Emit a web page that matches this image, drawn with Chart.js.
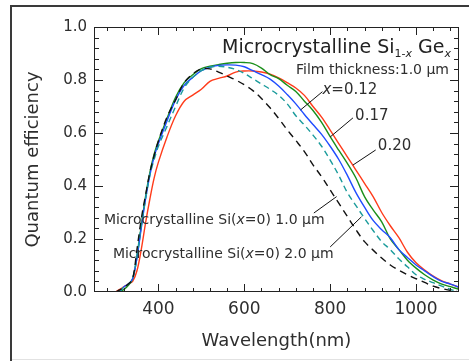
<!DOCTYPE html>
<html lang="en">
<head>
    <meta charset="UTF-8">
    <title>Quantum efficiency - microcrystalline SiGe</title>
    <script src="https://cdn.jsdelivr.net/npm/chart.js"></script>
    <style>
        body {
            margin: 0;
            padding: 0;
            background: #fff;
        }

        .chart-box {
            width: 469px;
            height: 361px;
        }
    </style>
</head>
<body>
    <div class="chart-box">
        <canvas id="qeChart" width="469" height="361"></canvas>
    </div>

    <script>
        // wavelength grid (nm) shared by all curves
        const wavelengths = [300, 310, 320, 330, 340, 350, 360, 370, 380, 390, 400, 420, 440, 460, 480, 500, 520, 540, 560, 580,
            600, 620, 640, 660, 680, 700, 720, 740, 760, 780, 800, 820, 840, 860, 880, 900, 920, 940, 960, 980,
            1000, 1020, 1040, 1060, 1080, 1100];

        // microcrystalline Si (x=0), 1.0 um - black dashed
        const si10 = [0.0, 0.008, 0.018, 0.03, 0.05, 0.16, 0.275, 0.365, 0.45, 0.515, 0.57, 0.66, 0.725, 0.79, 0.823, 0.842, 0.842, 0.83, 0.815, 0.8,
            0.782, 0.76, 0.73, 0.695, 0.655, 0.612, 0.572, 0.53, 0.48, 0.435, 0.385, 0.335, 0.285, 0.235, 0.19, 0.158, 0.128, 0.102, 0.082, 0.065,
            0.05, 0.036, 0.022, 0.013, 0.006, 0.0];

        // microcrystalline Si (x=0), 2.0 um - teal dashed
        const si20 = [null, 0.0, 0.02, 0.03, 0.05, 0.14, 0.25, 0.35, 0.44, 0.5, 0.55, 0.625, 0.7, 0.77, 0.81, 0.835, 0.848, 0.852, 0.848, 0.84,
            0.825, 0.805, 0.785, 0.765, 0.742, 0.71, 0.665, 0.63, 0.592, 0.55, 0.498, 0.44, 0.375, 0.326, 0.278, 0.232, 0.19, 0.16, 0.125, 0.095,
            0.065, 0.048, 0.035, 0.022, 0.01, 0.0];

        // Si(1-x)Ge(x), 1.0 um
        const ge012 = [null, 0.0, 0.02, 0.03, 0.05, 0.13, 0.24, 0.35, 0.44, 0.51, 0.56, 0.645, 0.725, 0.78, 0.81, 0.835, 0.848, 0.855, 0.857, 0.856,
            0.85, 0.835, 0.82, 0.803, 0.777, 0.745, 0.71, 0.67, 0.632, 0.595, 0.55, 0.5, 0.44, 0.375, 0.32, 0.27, 0.235, 0.205, 0.16, 0.13,
            0.102, 0.08, 0.058, 0.04, 0.03, 0.018];

        const ge017 = [null, 0.0, 0.01, 0.025, 0.05, 0.13, 0.25, 0.36, 0.45, 0.52, 0.57, 0.655, 0.735, 0.79, 0.82, 0.843, 0.852, 0.858, 0.863, 0.866,
            0.866, 0.862, 0.845, 0.82, 0.805, 0.78, 0.757, 0.72, 0.685, 0.64, 0.586, 0.535, 0.485, 0.43, 0.36, 0.31, 0.265, 0.2, 0.16, 0.12,
            0.09, 0.065, 0.045, 0.03, 0.02, 0.01];

        const ge020 = [0.0, 0.01, 0.02, 0.03, 0.04, 0.08, 0.16, 0.26, 0.35, 0.43, 0.49, 0.585, 0.665, 0.72, 0.743, 0.765, 0.795, 0.806, 0.815, 0.83,
            0.834, 0.834, 0.83, 0.822, 0.808, 0.79, 0.77, 0.742, 0.7, 0.66, 0.611, 0.56, 0.51, 0.46, 0.41, 0.36, 0.3, 0.25, 0.205, 0.15,
            0.11, 0.083, 0.06, 0.042, 0.03, 0.018];

        const xTickLabels = [400, 600, 800, 1000];
        const yTickLabels = [0, 0.2, 0.4, 0.6, 0.8, 1.0];

        // leader lines / callouts, in data units [wl, qe]
        const callouts = [
            { text: 'x=0.12', from: [731, 0.687], to: [782, 0.756], at: [782, 0.76] },
            { text: '0.17', from: [800, 0.585], to: [853, 0.657], at: [858, 0.665] },
            { text: '0.20', from: [853, 0.479], to: [906, 0.536], at: [911, 0.552] },
            { text: 'Microcrystalline Si(x=0) 1.0 μm', from: [815, 0.36], to: [762, 0.298], at: [273, 0.269], si: true },
            { text: 'Microcrystalline Si(x=0) 2.0 μm', from: [873, 0.284], to: [800, 0.17], at: [294, 0.143], si: true }
        ];

        const txtColor = '#2e2e2e';
        const fontFam = '"DejaVu Sans", sans-serif';

        function toPoints(ys) {
            return wavelengths.map((w, i) => ({ x: w, y: ys[i] })).filter(p => p.y !== null);
        }

        // draws text where "x" is italic (used for x=0.12 and Si(x=0))
        function drawMixed(ctx, str, x, y, size) {
            const parts = str.split('x');
            let cx = x;
            parts.forEach((p, i) => {
                ctx.font = size + 'px ' + fontFam;
                ctx.fillText(p, cx, y);
                cx += ctx.measureText(p).width;
                if (i < parts.length - 1) {
                    ctx.font = 'italic ' + size + 'px ' + fontFam;
                    ctx.fillText('x', cx, y);
                    cx += ctx.measureText('x').width;
                }
            });
        }

        const decorations = {
            id: 'decorations',
            afterDraw(chart) {
                const { ctx, chartArea: a, scales: { x, y } } = chart;
                ctx.save();

                // outer frame of the figure
                ctx.strokeStyle = '#3a3a3a';
                ctx.lineWidth = 2;
                ctx.beginPath();
                ctx.moveTo(11, 361);
                ctx.lineTo(11, 6);
                ctx.lineTo(469, 6);
                ctx.stroke();
                ctx.strokeStyle = '#e2e2e2';
                ctx.lineWidth = 1;
                ctx.beginPath();
                ctx.moveTo(12, 359.5);
                ctx.lineTo(469, 359.5);
                ctx.stroke();

                // plot box
                ctx.strokeStyle = '#222';
                ctx.lineWidth = 1;
                ctx.strokeRect(a.left + 0.5, a.top + 0.5, a.right - a.left - 1, a.bottom - a.top - 1);

                // inward tick marks on all four sides
                ctx.beginPath();
                for (let w = 280; w <= 1080; w += 40) {
                    const px = Math.round(x.getPixelForValue(w)) + 0.5;
                    const len = xTickLabels.includes(w) ? 8 : 4;
                    ctx.moveTo(px, a.bottom); ctx.lineTo(px, a.bottom - len);
                    ctx.moveTo(px, a.top); ctx.lineTo(px, a.top + len);
                }
                for (let k = 1; k < 25; k++) {
                    const v = k * 0.04;
                    const py = Math.round(y.getPixelForValue(v)) + 0.5;
                    const len = k % 5 === 0 ? 9 : 5;
                    ctx.moveTo(a.left, py); ctx.lineTo(a.left + len, py);
                    ctx.moveTo(a.right, py); ctx.lineTo(a.right - len, py);
                }
                ctx.stroke();

                // callout leaders
                ctx.strokeStyle = '#111';
                ctx.lineWidth = 1;
                callouts.forEach(c => {
                    ctx.beginPath();
                    ctx.moveTo(x.getPixelForValue(c.from[0]), y.getPixelForValue(c.from[1]));
                    ctx.lineTo(x.getPixelForValue(c.to[0]), y.getPixelForValue(c.to[1]));
                    ctx.stroke();
                });

                ctx.fillStyle = txtColor;
                ctx.textBaseline = 'middle';
                ctx.textAlign = 'left';
                callouts.forEach(c => {
                    const size = c.si ? 14 : 15;
                    drawMixed(ctx, c.text, x.getPixelForValue(c.at[0]), y.getPixelForValue(c.at[1]), size);
                });

                // title: Microcrystalline Si(1-x) Ge(x)
                ctx.fillStyle = '#222';
                ctx.textBaseline = 'alphabetic';
                const big = '19px ' + fontFam;
                const sub = '11px ' + fontFam;
                const subI = 'italic 11px ' + fontFam;
                const pieces = [
                    { t: 'Microcrystalline Si', f: big, dy: 0 },
                    { t: '1-', f: sub, dy: 4 },
                    { t: 'x', f: subI, dy: 4 },
                    { t: ' Ge', f: big, dy: 0 },
                    { t: 'x', f: subI, dy: 4 }
                ];
                let total = 0;
                pieces.forEach(p => { ctx.font = p.f; total += ctx.measureText(p.t).width; });
                let tx = a.right - 8 - total;
                const ty = a.top + 26;
                pieces.forEach(p => {
                    ctx.font = p.f;
                    ctx.fillText(p.t, tx, ty + p.dy);
                    tx += ctx.measureText(p.t).width;
                });

                ctx.fillStyle = txtColor;
                ctx.font = '14px ' + fontFam;
                ctx.textAlign = 'right';
                ctx.textBaseline = 'middle';
                ctx.fillText('Film thickness:1.0 μm', a.right - 10, a.top + 43);

                ctx.restore();
            }
        };

        const ctx = document.getElementById('qeChart').getContext('2d');
        new Chart(ctx, {
            type: 'line',
            data: {
                datasets: [
                    { label: 'Si 1.0', data: toPoints(si10), borderColor: '#111', borderDash: [7, 5] },
                    { label: 'Si 2.0', data: toPoints(si20), borderColor: '#1a9b9b', borderDash: [6, 4] },
                    { label: 'x=0.12', data: toPoints(ge012), borderColor: '#1f4cff' },
                    { label: 'x=0.17', data: toPoints(ge017), borderColor: '#1a8f1a' },
                    { label: 'x=0.20', data: toPoints(ge020), borderColor: '#ff3b1a' }
                ]
            },
            options: {
                responsive: false,
                animation: false,
                layout: { padding: { left: 0, top: 27, right: 10, bottom: 0 } },
                elements: {
                    point: { radius: 0 },
                    line: { borderWidth: 1.4, tension: 0.35, fill: false }
                },
                plugins: {
                    legend: { display: false },
                    tooltip: { enabled: false }
                },
                scales: {
                    x: {
                        type: 'linear',
                        min: 250,
                        max: 1100,
                        grid: { display: false, drawTicks: false },
                        border: { display: false },
                        afterBuildTicks: s => { s.ticks = xTickLabels.map(v => ({ value: v })); },
                        afterFit: s => { s.height = 69; },
                        ticks: {
                            padding: 7,
                            color: txtColor,
                            font: { family: fontFam, size: 17 },
                            maxRotation: 0,
                            callback: v => String(v)
                        },
                        title: {
                            display: true,
                            text: 'Wavelength(nm)',
                            color: txtColor,
                            font: { family: fontFam, size: 18 },
                            padding: { top: 0, bottom: 9 }
                        }
                    },
                    y: {
                        min: 0,
                        max: 1.0,
                        grid: { display: false, drawTicks: false },
                        border: { display: false },
                        afterBuildTicks: s => { s.ticks = yTickLabels.map(v => ({ value: v })); },
                        afterFit: s => { s.width = 94; },
                        ticks: {
                            padding: 7,
                            color: txtColor,
                            font: { family: fontFam, size: 15 },
                            callback: v => v.toFixed(1)
                        },
                        title: {
                            display: true,
                            text: 'Quantum efficiency',
                            color: txtColor,
                            font: { family: fontFam, size: 18 },
                            padding: { top: 23, bottom: 0 }
                        }
                    }
                }
            },
            plugins: [decorations]
        });
    </script>
</body>
</html>
